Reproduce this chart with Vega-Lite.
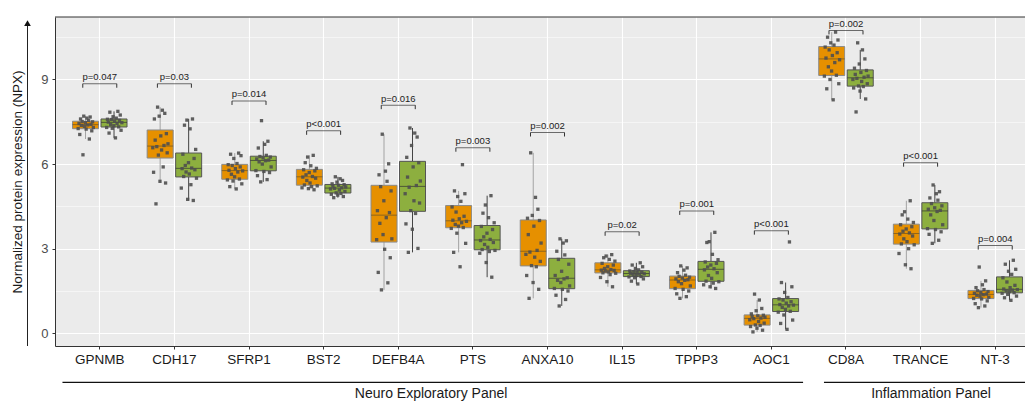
{
"$schema": "https://vega.github.io/schema/vega-lite/v6.json",
"width": 970, "height": 329,
"autosize": {"type": "none"},
"padding": {"left": 55, "top": 17, "right": 0, "bottom": 57},
"background": "white",
"config": {
  "font": "Liberation Sans",
  "view": {"fill": "#EBEBEB", "stroke": null},
  "axis": {"labelFont": "Liberation Sans", "titleFont": "Liberation Sans"}
},
"resolve": {"scale": {"xOffset": "independent"}},
"datasets": {
"npx": [
{"protein":"GPNMB","group":"A","sample":7,"npx":6.33},{"protein":"GPNMB","group":"A","sample":15,"npx":6.89},{"protein":"GPNMB","group":"A","sample":3,"npx":7.05},{"protein":"GPNMB","group":"A","sample":18,"npx":7.18},{"protein":"GPNMB","group":"A","sample":11,"npx":7.24},{"protein":"GPNMB","group":"A","sample":1,"npx":7.26},{"protein":"GPNMB","group":"A","sample":20,"npx":7.30},{"protein":"GPNMB","group":"A","sample":9,"npx":7.34},{"protein":"GPNMB","group":"A","sample":5,"npx":7.37},{"protein":"GPNMB","group":"A","sample":13,"npx":7.39},{"protein":"GPNMB","group":"A","sample":17,"npx":7.41},{"protein":"GPNMB","group":"A","sample":2,"npx":7.44},{"protein":"GPNMB","group":"A","sample":10,"npx":7.47},{"protein":"GPNMB","group":"A","sample":19,"npx":7.50},{"protein":"GPNMB","group":"A","sample":6,"npx":7.51},{"protein":"GPNMB","group":"A","sample":14,"npx":7.55},{"protein":"GPNMB","group":"A","sample":4,"npx":7.60},{"protein":"GPNMB","group":"A","sample":12,"npx":7.63},{"protein":"GPNMB","group":"A","sample":16,"npx":7.67},{"protein":"GPNMB","group":"A","sample":8,"npx":7.70},
{"protein":"GPNMB","group":"B","sample":12,"npx":6.93},{"protein":"GPNMB","group":"B","sample":4,"npx":7.10},{"protein":"GPNMB","group":"B","sample":19,"npx":7.20},{"protein":"GPNMB","group":"B","sample":8,"npx":7.27},{"protein":"GPNMB","group":"B","sample":1,"npx":7.30},{"protein":"GPNMB","group":"B","sample":16,"npx":7.32},{"protein":"GPNMB","group":"B","sample":10,"npx":7.36},{"protein":"GPNMB","group":"B","sample":6,"npx":7.40},{"protein":"GPNMB","group":"B","sample":14,"npx":7.44},{"protein":"GPNMB","group":"B","sample":20,"npx":7.47},{"protein":"GPNMB","group":"B","sample":3,"npx":7.49},{"protein":"GPNMB","group":"B","sample":11,"npx":7.52},{"protein":"GPNMB","group":"B","sample":17,"npx":7.55},{"protein":"GPNMB","group":"B","sample":7,"npx":7.58},{"protein":"GPNMB","group":"B","sample":2,"npx":7.59},{"protein":"GPNMB","group":"B","sample":13,"npx":7.63},{"protein":"GPNMB","group":"B","sample":9,"npx":7.68},{"protein":"GPNMB","group":"B","sample":18,"npx":7.74},{"protein":"GPNMB","group":"B","sample":5,"npx":7.84},{"protein":"GPNMB","group":"B","sample":15,"npx":7.87},
{"protein":"CDH17","group":"A","sample":5,"npx":4.59},{"protein":"CDH17","group":"A","sample":17,"npx":5.33},{"protein":"CDH17","group":"A","sample":10,"npx":5.39},{"protein":"CDH17","group":"A","sample":2,"npx":5.71},{"protein":"CDH17","group":"A","sample":14,"npx":5.90},{"protein":"CDH17","group":"A","sample":8,"npx":6.32},{"protein":"CDH17","group":"A","sample":19,"npx":6.40},{"protein":"CDH17","group":"A","sample":12,"npx":6.50},{"protein":"CDH17","group":"A","sample":1,"npx":6.58},{"protein":"CDH17","group":"A","sample":6,"npx":6.62},{"protein":"CDH17","group":"A","sample":15,"npx":6.66},{"protein":"CDH17","group":"A","sample":20,"npx":6.72},{"protein":"CDH17","group":"A","sample":4,"npx":6.85},{"protein":"CDH17","group":"A","sample":11,"npx":7.00},{"protein":"CDH17","group":"A","sample":18,"npx":7.08},{"protein":"CDH17","group":"A","sample":3,"npx":7.60},{"protein":"CDH17","group":"A","sample":9,"npx":7.70},{"protein":"CDH17","group":"A","sample":16,"npx":7.80},{"protein":"CDH17","group":"A","sample":13,"npx":7.91},{"protein":"CDH17","group":"A","sample":7,"npx":8.02},
{"protein":"CDH17","group":"B","sample":16,"npx":4.71},{"protein":"CDH17","group":"B","sample":9,"npx":4.75},{"protein":"CDH17","group":"B","sample":1,"npx":5.15},{"protein":"CDH17","group":"B","sample":13,"npx":5.27},{"protein":"CDH17","group":"B","sample":20,"npx":5.50},{"protein":"CDH17","group":"B","sample":4,"npx":5.56},{"protein":"CDH17","group":"B","sample":11,"npx":5.65},{"protein":"CDH17","group":"B","sample":7,"npx":5.72},{"protein":"CDH17","group":"B","sample":18,"npx":5.80},{"protein":"CDH17","group":"B","sample":2,"npx":5.84},{"protein":"CDH17","group":"B","sample":14,"npx":5.86},{"protein":"CDH17","group":"B","sample":6,"npx":5.95},{"protein":"CDH17","group":"B","sample":10,"npx":6.05},{"protein":"CDH17","group":"B","sample":17,"npx":6.20},{"protein":"CDH17","group":"B","sample":3,"npx":6.35},{"protein":"CDH17","group":"B","sample":19,"npx":6.52},{"protein":"CDH17","group":"B","sample":12,"npx":7.25},{"protein":"CDH17","group":"B","sample":5,"npx":7.38},{"protein":"CDH17","group":"B","sample":8,"npx":7.56},{"protein":"CDH17","group":"B","sample":15,"npx":7.60},
{"protein":"SFRP1","group":"A","sample":12,"npx":5.12},{"protein":"SFRP1","group":"A","sample":4,"npx":5.20},{"protein":"SFRP1","group":"A","sample":19,"npx":5.30},{"protein":"SFRP1","group":"A","sample":8,"npx":5.40},{"protein":"SFRP1","group":"A","sample":1,"npx":5.44},{"protein":"SFRP1","group":"A","sample":16,"npx":5.47},{"protein":"SFRP1","group":"A","sample":10,"npx":5.55},{"protein":"SFRP1","group":"A","sample":6,"npx":5.64},{"protein":"SFRP1","group":"A","sample":14,"npx":5.72},{"protein":"SFRP1","group":"A","sample":20,"npx":5.76},{"protein":"SFRP1","group":"A","sample":3,"npx":5.78},{"protein":"SFRP1","group":"A","sample":11,"npx":5.84},{"protein":"SFRP1","group":"A","sample":17,"npx":5.90},{"protein":"SFRP1","group":"A","sample":7,"npx":5.95},{"protein":"SFRP1","group":"A","sample":2,"npx":5.98},{"protein":"SFRP1","group":"A","sample":13,"npx":6.02},{"protein":"SFRP1","group":"A","sample":9,"npx":6.20},{"protein":"SFRP1","group":"A","sample":18,"npx":6.30},{"protein":"SFRP1","group":"A","sample":5,"npx":6.35},{"protein":"SFRP1","group":"A","sample":15,"npx":6.39},
{"protein":"SFRP1","group":"B","sample":7,"npx":5.37},{"protein":"SFRP1","group":"B","sample":15,"npx":5.45},{"protein":"SFRP1","group":"B","sample":3,"npx":5.59},{"protein":"SFRP1","group":"B","sample":18,"npx":5.70},{"protein":"SFRP1","group":"B","sample":11,"npx":5.74},{"protein":"SFRP1","group":"B","sample":1,"npx":5.77},{"protein":"SFRP1","group":"B","sample":20,"npx":5.90},{"protein":"SFRP1","group":"B","sample":9,"npx":6.00},{"protein":"SFRP1","group":"B","sample":5,"npx":6.08},{"protein":"SFRP1","group":"B","sample":13,"npx":6.12},{"protein":"SFRP1","group":"B","sample":17,"npx":6.14},{"protein":"SFRP1","group":"B","sample":2,"npx":6.18},{"protein":"SFRP1","group":"B","sample":10,"npx":6.22},{"protein":"SFRP1","group":"B","sample":19,"npx":6.25},{"protein":"SFRP1","group":"B","sample":6,"npx":6.27},{"protein":"SFRP1","group":"B","sample":14,"npx":6.31},{"protein":"SFRP1","group":"B","sample":4,"npx":6.57},{"protein":"SFRP1","group":"B","sample":12,"npx":6.70},{"protein":"SFRP1","group":"B","sample":16,"npx":6.81},{"protein":"SFRP1","group":"B","sample":8,"npx":7.54},
{"protein":"BST2","group":"A","sample":16,"npx":5.09},{"protein":"BST2","group":"A","sample":9,"npx":5.13},{"protein":"BST2","group":"A","sample":1,"npx":5.16},{"protein":"BST2","group":"A","sample":13,"npx":5.20},{"protein":"BST2","group":"A","sample":20,"npx":5.23},{"protein":"BST2","group":"A","sample":4,"npx":5.26},{"protein":"BST2","group":"A","sample":11,"npx":5.33},{"protein":"BST2","group":"A","sample":7,"npx":5.42},{"protein":"BST2","group":"A","sample":18,"npx":5.50},{"protein":"BST2","group":"A","sample":2,"npx":5.54},{"protein":"BST2","group":"A","sample":14,"npx":5.56},{"protein":"BST2","group":"A","sample":6,"npx":5.62},{"protein":"BST2","group":"A","sample":10,"npx":5.70},{"protein":"BST2","group":"A","sample":17,"npx":5.76},{"protein":"BST2","group":"A","sample":3,"npx":5.80},{"protein":"BST2","group":"A","sample":19,"npx":5.85},{"protein":"BST2","group":"A","sample":12,"npx":5.94},{"protein":"BST2","group":"A","sample":5,"npx":6.05},{"protein":"BST2","group":"A","sample":8,"npx":6.25},{"protein":"BST2","group":"A","sample":15,"npx":6.31},
{"protein":"BST2","group":"B","sample":5,"npx":4.81},{"protein":"BST2","group":"B","sample":17,"npx":4.85},{"protein":"BST2","group":"B","sample":10,"npx":4.90},{"protein":"BST2","group":"B","sample":2,"npx":4.93},{"protein":"BST2","group":"B","sample":14,"npx":4.96},{"protein":"BST2","group":"B","sample":8,"npx":4.98},{"protein":"BST2","group":"B","sample":19,"npx":5.03},{"protein":"BST2","group":"B","sample":12,"npx":5.08},{"protein":"BST2","group":"B","sample":1,"npx":5.12},{"protein":"BST2","group":"B","sample":6,"npx":5.14},{"protein":"BST2","group":"B","sample":15,"npx":5.16},{"protein":"BST2","group":"B","sample":20,"npx":5.19},{"protein":"BST2","group":"B","sample":4,"npx":5.22},{"protein":"BST2","group":"B","sample":11,"npx":5.25},{"protein":"BST2","group":"B","sample":18,"npx":5.27},{"protein":"BST2","group":"B","sample":3,"npx":5.30},{"protein":"BST2","group":"B","sample":9,"npx":5.36},{"protein":"BST2","group":"B","sample":16,"npx":5.42},{"protein":"BST2","group":"B","sample":13,"npx":5.48},{"protein":"BST2","group":"B","sample":7,"npx":5.55},
{"protein":"DEFB4A","group":"A","sample":7,"npx":1.54},{"protein":"DEFB4A","group":"A","sample":15,"npx":1.79},{"protein":"DEFB4A","group":"A","sample":3,"npx":2.16},{"protein":"DEFB4A","group":"A","sample":18,"npx":2.68},{"protein":"DEFB4A","group":"A","sample":11,"npx":2.98},{"protein":"DEFB4A","group":"A","sample":1,"npx":3.32},{"protein":"DEFB4A","group":"A","sample":20,"npx":3.35},{"protein":"DEFB4A","group":"A","sample":9,"npx":3.50},{"protein":"DEFB4A","group":"A","sample":5,"npx":3.90},{"protein":"DEFB4A","group":"A","sample":13,"npx":4.10},{"protein":"DEFB4A","group":"A","sample":17,"npx":4.28},{"protein":"DEFB4A","group":"A","sample":2,"npx":4.35},{"protein":"DEFB4A","group":"A","sample":10,"npx":4.70},{"protein":"DEFB4A","group":"A","sample":19,"npx":5.05},{"protein":"DEFB4A","group":"A","sample":6,"npx":5.20},{"protein":"DEFB4A","group":"A","sample":14,"npx":5.39},{"protein":"DEFB4A","group":"A","sample":4,"npx":5.62},{"protein":"DEFB4A","group":"A","sample":12,"npx":5.75},{"protein":"DEFB4A","group":"A","sample":16,"npx":6.01},{"protein":"DEFB4A","group":"A","sample":8,"npx":7.06},
{"protein":"DEFB4A","group":"B","sample":5,"npx":2.87},{"protein":"DEFB4A","group":"B","sample":17,"npx":3.01},{"protein":"DEFB4A","group":"B","sample":10,"npx":3.69},{"protein":"DEFB4A","group":"B","sample":2,"npx":3.88},{"protein":"DEFB4A","group":"B","sample":14,"npx":4.25},{"protein":"DEFB4A","group":"B","sample":8,"npx":4.35},{"protein":"DEFB4A","group":"B","sample":19,"npx":4.62},{"protein":"DEFB4A","group":"B","sample":12,"npx":4.70},{"protein":"DEFB4A","group":"B","sample":1,"npx":4.95},{"protein":"DEFB4A","group":"B","sample":6,"npx":5.18},{"protein":"DEFB4A","group":"B","sample":15,"npx":5.24},{"protein":"DEFB4A","group":"B","sample":20,"npx":5.40},{"protein":"DEFB4A","group":"B","sample":4,"npx":5.54},{"protein":"DEFB4A","group":"B","sample":11,"npx":5.90},{"protein":"DEFB4A","group":"B","sample":18,"npx":6.05},{"protein":"DEFB4A","group":"B","sample":3,"npx":6.24},{"protein":"DEFB4A","group":"B","sample":9,"npx":6.66},{"protein":"DEFB4A","group":"B","sample":16,"npx":6.96},{"protein":"DEFB4A","group":"B","sample":13,"npx":7.10},{"protein":"DEFB4A","group":"B","sample":7,"npx":7.28},
{"protein":"PTS","group":"A","sample":12,"npx":2.36},{"protein":"PTS","group":"A","sample":4,"npx":2.87},{"protein":"PTS","group":"A","sample":19,"npx":3.19},{"protein":"PTS","group":"A","sample":8,"npx":3.55},{"protein":"PTS","group":"A","sample":1,"npx":3.72},{"protein":"PTS","group":"A","sample":16,"npx":3.75},{"protein":"PTS","group":"A","sample":10,"npx":3.80},{"protein":"PTS","group":"A","sample":6,"npx":3.86},{"protein":"PTS","group":"A","sample":14,"npx":3.92},{"protein":"PTS","group":"A","sample":20,"npx":3.97},{"protein":"PTS","group":"A","sample":3,"npx":4.01},{"protein":"PTS","group":"A","sample":11,"npx":4.06},{"protein":"PTS","group":"A","sample":17,"npx":4.15},{"protein":"PTS","group":"A","sample":7,"npx":4.30},{"protein":"PTS","group":"A","sample":2,"npx":4.48},{"protein":"PTS","group":"A","sample":13,"npx":4.68},{"protein":"PTS","group":"A","sample":9,"npx":4.85},{"protein":"PTS","group":"A","sample":18,"npx":4.95},{"protein":"PTS","group":"A","sample":5,"npx":5.05},{"protein":"PTS","group":"A","sample":15,"npx":5.98},
{"protein":"PTS","group":"B","sample":16,"npx":1.99},{"protein":"PTS","group":"B","sample":9,"npx":2.51},{"protein":"PTS","group":"B","sample":1,"npx":2.84},{"protein":"PTS","group":"B","sample":13,"npx":2.90},{"protein":"PTS","group":"B","sample":20,"npx":2.94},{"protein":"PTS","group":"B","sample":4,"npx":2.97},{"protein":"PTS","group":"B","sample":11,"npx":3.05},{"protein":"PTS","group":"B","sample":7,"npx":3.15},{"protein":"PTS","group":"B","sample":18,"npx":3.22},{"protein":"PTS","group":"B","sample":2,"npx":3.29},{"protein":"PTS","group":"B","sample":14,"npx":3.33},{"protein":"PTS","group":"B","sample":6,"npx":3.42},{"protein":"PTS","group":"B","sample":10,"npx":3.55},{"protein":"PTS","group":"B","sample":17,"npx":3.68},{"protein":"PTS","group":"B","sample":3,"npx":3.79},{"protein":"PTS","group":"B","sample":19,"npx":3.92},{"protein":"PTS","group":"B","sample":12,"npx":4.10},{"protein":"PTS","group":"B","sample":5,"npx":4.26},{"protein":"PTS","group":"B","sample":8,"npx":4.55},{"protein":"PTS","group":"B","sample":15,"npx":4.88},
{"protein":"ANXA10","group":"A","sample":5,"npx":1.24},{"protein":"ANXA10","group":"A","sample":17,"npx":1.56},{"protein":"ANXA10","group":"A","sample":10,"npx":1.80},{"protein":"ANXA10","group":"A","sample":2,"npx":2.05},{"protein":"ANXA10","group":"A","sample":14,"npx":2.36},{"protein":"ANXA10","group":"A","sample":8,"npx":2.40},{"protein":"ANXA10","group":"A","sample":19,"npx":2.55},{"protein":"ANXA10","group":"A","sample":12,"npx":2.70},{"protein":"ANXA10","group":"A","sample":1,"npx":2.80},{"protein":"ANXA10","group":"A","sample":6,"npx":2.88},{"protein":"ANXA10","group":"A","sample":15,"npx":2.94},{"protein":"ANXA10","group":"A","sample":20,"npx":3.20},{"protein":"ANXA10","group":"A","sample":4,"npx":3.50},{"protein":"ANXA10","group":"A","sample":11,"npx":3.80},{"protein":"ANXA10","group":"A","sample":18,"npx":4.00},{"protein":"ANXA10","group":"A","sample":3,"npx":4.08},{"protein":"ANXA10","group":"A","sample":9,"npx":4.18},{"protein":"ANXA10","group":"A","sample":16,"npx":4.40},{"protein":"ANXA10","group":"A","sample":13,"npx":4.82},{"protein":"ANXA10","group":"A","sample":7,"npx":6.40},
{"protein":"ANXA10","group":"B","sample":7,"npx":0.97},{"protein":"ANXA10","group":"B","sample":15,"npx":1.20},{"protein":"ANXA10","group":"B","sample":3,"npx":1.35},{"protein":"ANXA10","group":"B","sample":18,"npx":1.50},{"protein":"ANXA10","group":"B","sample":11,"npx":1.56},{"protein":"ANXA10","group":"B","sample":1,"npx":1.59},{"protein":"ANXA10","group":"B","sample":20,"npx":1.68},{"protein":"ANXA10","group":"B","sample":9,"npx":1.80},{"protein":"ANXA10","group":"B","sample":5,"npx":1.88},{"protein":"ANXA10","group":"B","sample":13,"npx":1.93},{"protein":"ANXA10","group":"B","sample":17,"npx":1.97},{"protein":"ANXA10","group":"B","sample":2,"npx":2.05},{"protein":"ANXA10","group":"B","sample":10,"npx":2.20},{"protein":"ANXA10","group":"B","sample":19,"npx":2.45},{"protein":"ANXA10","group":"B","sample":6,"npx":2.62},{"protein":"ANXA10","group":"B","sample":14,"npx":2.78},{"protein":"ANXA10","group":"B","sample":4,"npx":2.91},{"protein":"ANXA10","group":"B","sample":12,"npx":3.20},{"protein":"ANXA10","group":"B","sample":16,"npx":3.28},{"protein":"ANXA10","group":"B","sample":8,"npx":3.35},
{"protein":"IL15","group":"A","sample":16,"npx":1.65},{"protein":"IL15","group":"A","sample":9,"npx":1.83},{"protein":"IL15","group":"A","sample":1,"npx":1.98},{"protein":"IL15","group":"A","sample":13,"npx":2.08},{"protein":"IL15","group":"A","sample":20,"npx":2.13},{"protein":"IL15","group":"A","sample":4,"npx":2.145},{"protein":"IL15","group":"A","sample":11,"npx":2.18},{"protein":"IL15","group":"A","sample":7,"npx":2.21},{"protein":"IL15","group":"A","sample":18,"npx":2.23},{"protein":"IL15","group":"A","sample":2,"npx":2.24},{"protein":"IL15","group":"A","sample":14,"npx":2.26},{"protein":"IL15","group":"A","sample":6,"npx":2.30},{"protein":"IL15","group":"A","sample":10,"npx":2.36},{"protein":"IL15","group":"A","sample":17,"npx":2.42},{"protein":"IL15","group":"A","sample":3,"npx":2.48},{"protein":"IL15","group":"A","sample":19,"npx":2.56},{"protein":"IL15","group":"A","sample":12,"npx":2.62},{"protein":"IL15","group":"A","sample":5,"npx":2.68},{"protein":"IL15","group":"A","sample":8,"npx":2.74},{"protein":"IL15","group":"A","sample":15,"npx":2.79},
{"protein":"IL15","group":"B","sample":12,"npx":1.75},{"protein":"IL15","group":"B","sample":4,"npx":1.85},{"protein":"IL15","group":"B","sample":19,"npx":1.93},{"protein":"IL15","group":"B","sample":8,"npx":1.97},{"protein":"IL15","group":"B","sample":1,"npx":2.00},{"protein":"IL15","group":"B","sample":16,"npx":2.015},{"protein":"IL15","group":"B","sample":10,"npx":2.05},{"protein":"IL15","group":"B","sample":6,"npx":2.08},{"protein":"IL15","group":"B","sample":14,"npx":2.10},{"protein":"IL15","group":"B","sample":20,"npx":2.11},{"protein":"IL15","group":"B","sample":3,"npx":2.13},{"protein":"IL15","group":"B","sample":11,"npx":2.15},{"protein":"IL15","group":"B","sample":17,"npx":2.17},{"protein":"IL15","group":"B","sample":7,"npx":2.19},{"protein":"IL15","group":"B","sample":2,"npx":2.21},{"protein":"IL15","group":"B","sample":13,"npx":2.25},{"protein":"IL15","group":"B","sample":9,"npx":2.30},{"protein":"IL15","group":"B","sample":18,"npx":2.36},{"protein":"IL15","group":"B","sample":5,"npx":2.42},{"protein":"IL15","group":"B","sample":15,"npx":2.50},
{"protein":"TPPP3","group":"A","sample":7,"npx":1.24},{"protein":"TPPP3","group":"A","sample":15,"npx":1.30},{"protein":"TPPP3","group":"A","sample":3,"npx":1.40},{"protein":"TPPP3","group":"A","sample":18,"npx":1.50},{"protein":"TPPP3","group":"A","sample":11,"npx":1.56},{"protein":"TPPP3","group":"A","sample":1,"npx":1.59},{"protein":"TPPP3","group":"A","sample":20,"npx":1.68},{"protein":"TPPP3","group":"A","sample":9,"npx":1.76},{"protein":"TPPP3","group":"A","sample":5,"npx":1.83},{"protein":"TPPP3","group":"A","sample":13,"npx":1.88},{"protein":"TPPP3","group":"A","sample":17,"npx":1.90},{"protein":"TPPP3","group":"A","sample":2,"npx":1.93},{"protein":"TPPP3","group":"A","sample":10,"npx":1.96},{"protein":"TPPP3","group":"A","sample":19,"npx":1.99},{"protein":"TPPP3","group":"A","sample":6,"npx":2.02},{"protein":"TPPP3","group":"A","sample":14,"npx":2.06},{"protein":"TPPP3","group":"A","sample":4,"npx":2.15},{"protein":"TPPP3","group":"A","sample":12,"npx":2.24},{"protein":"TPPP3","group":"A","sample":16,"npx":2.32},{"protein":"TPPP3","group":"A","sample":8,"npx":2.39},
{"protein":"TPPP3","group":"B","sample":16,"npx":1.59},{"protein":"TPPP3","group":"B","sample":9,"npx":1.65},{"protein":"TPPP3","group":"B","sample":1,"npx":1.72},{"protein":"TPPP3","group":"B","sample":13,"npx":1.78},{"protein":"TPPP3","group":"B","sample":20,"npx":1.83},{"protein":"TPPP3","group":"B","sample":4,"npx":1.85},{"protein":"TPPP3","group":"B","sample":11,"npx":1.95},{"protein":"TPPP3","group":"B","sample":7,"npx":2.05},{"protein":"TPPP3","group":"B","sample":18,"npx":2.15},{"protein":"TPPP3","group":"B","sample":2,"npx":2.25},{"protein":"TPPP3","group":"B","sample":14,"npx":2.29},{"protein":"TPPP3","group":"B","sample":6,"npx":2.35},{"protein":"TPPP3","group":"B","sample":10,"npx":2.42},{"protein":"TPPP3","group":"B","sample":17,"npx":2.48},{"protein":"TPPP3","group":"B","sample":3,"npx":2.53},{"protein":"TPPP3","group":"B","sample":19,"npx":2.61},{"protein":"TPPP3","group":"B","sample":12,"npx":2.80},{"protein":"TPPP3","group":"B","sample":5,"npx":3.22},{"protein":"TPPP3","group":"B","sample":8,"npx":3.25},{"protein":"TPPP3","group":"B","sample":15,"npx":3.58},
{"protein":"AOC1","group":"A","sample":5,"npx":0.05},{"protein":"AOC1","group":"A","sample":17,"npx":0.11},{"protein":"AOC1","group":"A","sample":10,"npx":0.18},{"protein":"AOC1","group":"A","sample":2,"npx":0.24},{"protein":"AOC1","group":"A","sample":14,"npx":0.28},{"protein":"AOC1","group":"A","sample":8,"npx":0.295},{"protein":"AOC1","group":"A","sample":19,"npx":0.36},{"protein":"AOC1","group":"A","sample":12,"npx":0.42},{"protein":"AOC1","group":"A","sample":1,"npx":0.48},{"protein":"AOC1","group":"A","sample":6,"npx":0.52},{"protein":"AOC1","group":"A","sample":15,"npx":0.54},{"protein":"AOC1","group":"A","sample":20,"npx":0.57},{"protein":"AOC1","group":"A","sample":4,"npx":0.60},{"protein":"AOC1","group":"A","sample":11,"npx":0.62},{"protein":"AOC1","group":"A","sample":18,"npx":0.64},{"protein":"AOC1","group":"A","sample":3,"npx":0.69},{"protein":"AOC1","group":"A","sample":9,"npx":0.80},{"protein":"AOC1","group":"A","sample":16,"npx":0.88},{"protein":"AOC1","group":"A","sample":13,"npx":1.18},{"protein":"AOC1","group":"A","sample":7,"npx":1.39},
{"protein":"AOC1","group":"B","sample":12,"npx":0.14},{"protein":"AOC1","group":"B","sample":4,"npx":0.35},{"protein":"AOC1","group":"B","sample":19,"npx":0.47},{"protein":"AOC1","group":"B","sample":8,"npx":0.65},{"protein":"AOC1","group":"B","sample":1,"npx":0.75},{"protein":"AOC1","group":"B","sample":16,"npx":0.78},{"protein":"AOC1","group":"B","sample":10,"npx":0.85},{"protein":"AOC1","group":"B","sample":6,"npx":0.92},{"protein":"AOC1","group":"B","sample":14,"npx":0.97},{"protein":"AOC1","group":"B","sample":20,"npx":1.00},{"protein":"AOC1","group":"B","sample":3,"npx":1.02},{"protein":"AOC1","group":"B","sample":11,"npx":1.07},{"protein":"AOC1","group":"B","sample":17,"npx":1.12},{"protein":"AOC1","group":"B","sample":7,"npx":1.18},{"protein":"AOC1","group":"B","sample":2,"npx":1.22},{"protein":"AOC1","group":"B","sample":13,"npx":1.27},{"protein":"AOC1","group":"B","sample":9,"npx":1.45},{"protein":"AOC1","group":"B","sample":18,"npx":1.65},{"protein":"AOC1","group":"B","sample":5,"npx":1.80},{"protein":"AOC1","group":"B","sample":15,"npx":3.24},
{"protein":"CD8A","group":"A","sample":12,"npx":8.28},{"protein":"CD8A","group":"A","sample":4,"npx":8.67},{"protein":"CD8A","group":"A","sample":19,"npx":8.85},{"protein":"CD8A","group":"A","sample":8,"npx":9.00},{"protein":"CD8A","group":"A","sample":1,"npx":9.12},{"protein":"CD8A","group":"A","sample":16,"npx":9.15},{"protein":"CD8A","group":"A","sample":10,"npx":9.30},{"protein":"CD8A","group":"A","sample":6,"npx":9.45},{"protein":"CD8A","group":"A","sample":14,"npx":9.60},{"protein":"CD8A","group":"A","sample":20,"npx":9.70},{"protein":"CD8A","group":"A","sample":3,"npx":9.76},{"protein":"CD8A","group":"A","sample":11,"npx":9.85},{"protein":"CD8A","group":"A","sample":17,"npx":9.95},{"protein":"CD8A","group":"A","sample":7,"npx":10.05},{"protein":"CD8A","group":"A","sample":2,"npx":10.15},{"protein":"CD8A","group":"A","sample":13,"npx":10.22},{"protein":"CD8A","group":"A","sample":9,"npx":10.30},{"protein":"CD8A","group":"A","sample":18,"npx":10.40},{"protein":"CD8A","group":"A","sample":5,"npx":10.50},{"protein":"CD8A","group":"A","sample":15,"npx":10.68},
{"protein":"CD8A","group":"B","sample":5,"npx":7.85},{"protein":"CD8A","group":"B","sample":17,"npx":8.31},{"protein":"CD8A","group":"B","sample":10,"npx":8.59},{"protein":"CD8A","group":"B","sample":2,"npx":8.70},{"protein":"CD8A","group":"B","sample":14,"npx":8.75},{"protein":"CD8A","group":"B","sample":8,"npx":8.77},{"protein":"CD8A","group":"B","sample":19,"npx":8.85},{"protein":"CD8A","group":"B","sample":12,"npx":8.93},{"protein":"CD8A","group":"B","sample":1,"npx":9.00},{"protein":"CD8A","group":"B","sample":6,"npx":9.04},{"protein":"CD8A","group":"B","sample":15,"npx":9.08},{"protein":"CD8A","group":"B","sample":20,"npx":9.12},{"protein":"CD8A","group":"B","sample":4,"npx":9.18},{"protein":"CD8A","group":"B","sample":11,"npx":9.25},{"protein":"CD8A","group":"B","sample":18,"npx":9.32},{"protein":"CD8A","group":"B","sample":3,"npx":9.40},{"protein":"CD8A","group":"B","sample":9,"npx":9.55},{"protein":"CD8A","group":"B","sample":16,"npx":9.73},{"protein":"CD8A","group":"B","sample":13,"npx":10.05},{"protein":"CD8A","group":"B","sample":7,"npx":10.30},
{"protein":"TRANCE","group":"A","sample":16,"npx":2.29},{"protein":"TRANCE","group":"A","sample":9,"npx":2.43},{"protein":"TRANCE","group":"A","sample":1,"npx":2.83},{"protein":"TRANCE","group":"A","sample":13,"npx":3.00},{"protein":"TRANCE","group":"A","sample":20,"npx":3.14},{"protein":"TRANCE","group":"A","sample":4,"npx":3.17},{"protein":"TRANCE","group":"A","sample":11,"npx":3.25},{"protein":"TRANCE","group":"A","sample":7,"npx":3.35},{"protein":"TRANCE","group":"A","sample":18,"npx":3.45},{"protein":"TRANCE","group":"A","sample":2,"npx":3.52},{"protein":"TRANCE","group":"A","sample":14,"npx":3.56},{"protein":"TRANCE","group":"A","sample":6,"npx":3.62},{"protein":"TRANCE","group":"A","sample":10,"npx":3.70},{"protein":"TRANCE","group":"A","sample":17,"npx":3.78},{"protein":"TRANCE","group":"A","sample":3,"npx":3.85},{"protein":"TRANCE","group":"A","sample":19,"npx":3.93},{"protein":"TRANCE","group":"A","sample":12,"npx":4.05},{"protein":"TRANCE","group":"A","sample":5,"npx":4.20},{"protein":"TRANCE","group":"A","sample":8,"npx":4.31},{"protein":"TRANCE","group":"A","sample":15,"npx":4.70},
{"protein":"TRANCE","group":"B","sample":7,"npx":3.19},{"protein":"TRANCE","group":"B","sample":15,"npx":3.30},{"protein":"TRANCE","group":"B","sample":3,"npx":3.51},{"protein":"TRANCE","group":"B","sample":18,"npx":3.60},{"protein":"TRANCE","group":"B","sample":11,"npx":3.68},{"protein":"TRANCE","group":"B","sample":1,"npx":3.71},{"protein":"TRANCE","group":"B","sample":20,"npx":3.85},{"protein":"TRANCE","group":"B","sample":9,"npx":4.00},{"protein":"TRANCE","group":"B","sample":5,"npx":4.20},{"protein":"TRANCE","group":"B","sample":13,"npx":4.32},{"protein":"TRANCE","group":"B","sample":17,"npx":4.36},{"protein":"TRANCE","group":"B","sample":2,"npx":4.40},{"protein":"TRANCE","group":"B","sample":10,"npx":4.45},{"protein":"TRANCE","group":"B","sample":19,"npx":4.52},{"protein":"TRANCE","group":"B","sample":6,"npx":4.60},{"protein":"TRANCE","group":"B","sample":14,"npx":4.72},{"protein":"TRANCE","group":"B","sample":4,"npx":4.80},{"protein":"TRANCE","group":"B","sample":12,"npx":4.95},{"protein":"TRANCE","group":"B","sample":16,"npx":5.02},{"protein":"TRANCE","group":"B","sample":8,"npx":5.26},
{"protein":"NT-3","group":"A","sample":7,"npx":0.91},{"protein":"NT-3","group":"A","sample":15,"npx":0.97},{"protein":"NT-3","group":"A","sample":3,"npx":1.05},{"protein":"NT-3","group":"A","sample":18,"npx":1.15},{"protein":"NT-3","group":"A","sample":11,"npx":1.22},{"protein":"NT-3","group":"A","sample":1,"npx":1.235},{"protein":"NT-3","group":"A","sample":20,"npx":1.28},{"protein":"NT-3","group":"A","sample":9,"npx":1.32},{"protein":"NT-3","group":"A","sample":5,"npx":1.35},{"protein":"NT-3","group":"A","sample":13,"npx":1.37},{"protein":"NT-3","group":"A","sample":17,"npx":1.39},{"protein":"NT-3","group":"A","sample":2,"npx":1.42},{"protein":"NT-3","group":"A","sample":10,"npx":1.45},{"protein":"NT-3","group":"A","sample":19,"npx":1.48},{"protein":"NT-3","group":"A","sample":6,"npx":1.51},{"protein":"NT-3","group":"A","sample":14,"npx":1.55},{"protein":"NT-3","group":"A","sample":4,"npx":1.62},{"protein":"NT-3","group":"A","sample":12,"npx":1.72},{"protein":"NT-3","group":"A","sample":16,"npx":1.86},{"protein":"NT-3","group":"A","sample":8,"npx":2.35},
{"protein":"NT-3","group":"B","sample":12,"npx":1.17},{"protein":"NT-3","group":"B","sample":4,"npx":1.26},{"protein":"NT-3","group":"B","sample":19,"npx":1.32},{"protein":"NT-3","group":"B","sample":8,"npx":1.38},{"protein":"NT-3","group":"B","sample":1,"npx":1.42},{"protein":"NT-3","group":"B","sample":16,"npx":1.44},{"protein":"NT-3","group":"B","sample":10,"npx":1.48},{"protein":"NT-3","group":"B","sample":6,"npx":1.51},{"protein":"NT-3","group":"B","sample":14,"npx":1.53},{"protein":"NT-3","group":"B","sample":20,"npx":1.55},{"protein":"NT-3","group":"B","sample":3,"npx":1.57},{"protein":"NT-3","group":"B","sample":11,"npx":1.62},{"protein":"NT-3","group":"B","sample":17,"npx":1.70},{"protein":"NT-3","group":"B","sample":7,"npx":1.82},{"protein":"NT-3","group":"B","sample":2,"npx":1.97},{"protein":"NT-3","group":"B","sample":13,"npx":2.09},{"protein":"NT-3","group":"B","sample":9,"npx":2.20},{"protein":"NT-3","group":"B","sample":18,"npx":2.27},{"protein":"NT-3","group":"B","sample":5,"npx":2.45},{"protein":"NT-3","group":"B","sample":15,"npx":2.59}
],
"brackets": [
{"protein":"GPNMB","npx":8.85,"label":"p=0.047"},
{"protein":"CDH17","npx":8.85,"label":"p=0.03"},
{"protein":"SFRP1","npx":8.24,"label":"p=0.014"},
{"protein":"BST2","npx":7.18,"label":"p<0.001"},
{"protein":"DEFB4A","npx":8.09,"label":"p=0.016"},
{"protein":"PTS","npx":6.58,"label":"p=0.003"},
{"protein":"ANXA10","npx":7.12,"label":"p=0.002"},
{"protein":"IL15","npx":3.60,"label":"p=0.02"},
{"protein":"TPPP3","npx":4.34,"label":"p=0.001"},
{"protein":"AOC1","npx":3.64,"label":"p<0.001"},
{"protein":"CD8A","npx":10.74,"label":"p=0.002"},
{"protein":"TRANCE","npx":6.05,"label":"p<0.001"},
{"protein":"NT-3","npx":3.11,"label":"p=0.004"}
]
},
"layer": [
{
 "data": {"name": "npx"},
 "transform": [{"filter": "datum.group === 'A'"}],
 "mark": {"type": "boxplot", "extent": 1.5, "outliers": false, "size": 26, "color": "#E69000",
          "box": {"stroke": "#8a8a8a", "strokeWidth": 1}, "median": {"color": "#6b5225", "strokeWidth": 1.2}, "rule": {"color": "#a3a3a3"}},
 "encoding": {
  "x": {"field": "protein", "type": "nominal", "title": null,
        "scale": {"domain": ["GPNMB","CDH17","SFRP1","BST2","DEFB4A","PTS","ANXA10","IL15","TPPP3","AOC1","CD8A","TRANCE","NT-3"], "range": [0, 985], "paddingOuter": 0.1, "paddingInner": 0},
        "axis": {"title": null, "labelAngle": 0, "labelFontSize": 13.5, "labelColor": "#1a1a1a", "labelPadding": 3,
                 "tickColor": "#333333", "tickSize": 3, "domainColor": "#333333", "domainWidth": 1,
                 "grid": true, "gridColor": "white", "gridWidth": 1.1}},
  "xOffset": {"field": "group", "type": "nominal", "scale": {"type": "band", "domain": ["A","B"], "paddingInner": 0.088, "paddingOuter": 0.353}},
  "y": {"field": "npx", "type": "quantitative", "title": "Normalized protein expression (NPX)",
        "scale": {"domain": [-0.45, 11.216], "nice": false, "zero": false},
        "axis": {"title": "Normalized protein expression (NPX)", "titleFontSize": 13.5, "titleFontWeight": "normal", "titleColor": "#1a1a1a", "titlePadding": 16,
                 "values": [0, 1.5, 3, 4.5, 6, 7.5, 9, 10.5],
                 "labelExpr": "datum.value % 3 === 0 ? datum.label : ''",
                 "labelFontSize": 13, "labelColor": "#4d4d4d", "labelPadding": 4, "tickSize": 3,
                 "tickColor": {"condition": {"test": "datum.value % 3 === 0", "value": "#333333"}, "value": "transparent"},
                 "domainColor": "#333333", "domainWidth": 1,
                 "grid": true, "gridColor": "white",
                 "gridWidth": {"condition": {"test": "datum.value % 3 === 0", "value": 1.1}, "value": 0.5}}}
 }
},
{
 "data": {"name": "npx"},
 "transform": [{"filter": "datum.group === 'B'"}],
 "mark": {"type": "boxplot", "extent": 1.5, "outliers": false, "size": 26, "color": "#8DAF3F",
          "box": {"stroke": "#555555", "strokeWidth": 1}, "median": {"color": "#333333", "strokeWidth": 1.2}, "rule": {"color": "#444444"}},
 "encoding": {
  "x": {"field": "protein", "type": "nominal", "title": null},
  "xOffset": {"field": "group", "type": "nominal", "scale": {"type": "band", "domain": ["A","B"], "paddingInner": 0.088, "paddingOuter": 0.353}},
  "y": {"field": "npx", "type": "quantitative", "title": "Normalized protein expression (NPX)"}
 }
},
{
 "data": {"name": "npx"},
 "transform": [{"filter": "datum.group === 'A'"}],
 "mark": {"type": "point", "shape": "square", "filled": true, "size": 11, "color": "#4f4f4f", "opacity": 0.9},
 "encoding": {
  "x": {"field": "protein", "type": "nominal", "title": null},
  "xOffset": {"field": "sample", "type": "ordinal", "scale": {"type": "point", "range": [15.7, 30.9], "padding": 0}},
  "y": {"field": "npx", "type": "quantitative", "title": "Normalized protein expression (NPX)"}
 }
},
{
 "data": {"name": "npx"},
 "transform": [{"filter": "datum.group === 'B'"}],
 "mark": {"type": "point", "shape": "square", "filled": true, "size": 11, "color": "#4f4f4f", "opacity": 0.9},
 "encoding": {
  "x": {"field": "protein", "type": "nominal", "title": null},
  "xOffset": {"field": "sample", "type": "ordinal", "scale": {"type": "point", "range": [44.2, 59.4], "padding": 0}},
  "y": {"field": "npx", "type": "quantitative", "title": "Normalized protein expression (NPX)"}
 }
},
{
 "data": {"name": "brackets"},
 "mark": {"type": "tick", "orient": "horizontal", "size": 34, "thickness": 1, "color": "#333333"},
 "encoding": {"x": {"field": "protein", "type": "nominal", "title": null}, "y": {"field": "npx", "type": "quantitative", "title": "Normalized protein expression (NPX)"}}
},
{
 "data": {"name": "brackets"},
 "mark": {"type": "rule", "color": "#333333", "strokeWidth": 1, "xOffset": -17, "x2Offset": -17, "y2Offset": 4},
 "encoding": {"x": {"field": "protein", "type": "nominal", "title": null}, "y": {"field": "npx", "type": "quantitative", "title": "Normalized protein expression (NPX)"}, "y2": {"field": "npx"}}
},
{
 "data": {"name": "brackets"},
 "mark": {"type": "rule", "color": "#333333", "strokeWidth": 1, "xOffset": 17, "x2Offset": 17, "y2Offset": 4},
 "encoding": {"x": {"field": "protein", "type": "nominal", "title": null}, "y": {"field": "npx", "type": "quantitative", "title": "Normalized protein expression (NPX)"}, "y2": {"field": "npx"}}
},
{
 "data": {"name": "brackets"},
 "mark": {"type": "text", "baseline": "bottom", "dy": -1.5, "fontSize": 9.5, "color": "#222222"},
 "encoding": {"x": {"field": "protein", "type": "nominal", "title": null}, "y": {"field": "npx", "type": "quantitative", "title": "Normalized protein expression (NPX)"}, "text": {"field": "label"}}
},
{
 "data": {"values": [{}]},
 "mark": {"type": "rule", "color": "#333333", "strokeWidth": 1},
 "encoding": {"y": {"datum": 11.216, "type": "quantitative", "title": "Normalized protein expression (NPX)"}}
},
{
 "data": {"values": [{}]},
 "mark": {"type": "rule", "color": "#222222", "strokeWidth": 1, "xOffset": -34.96, "x2Offset": -34.96},
 "encoding": {"x": {"datum": "GPNMB", "type": "nominal", "bandPosition": 0, "title": null}, "y": {"datum": -0.45, "type": "quantitative", "title": "Normalized protein expression (NPX)"}, "y2": {"datum": 10.9}}
},
{
 "data": {"values": [{}]},
 "mark": {"type": "point", "shape": "triangle-up", "filled": true, "size": 45, "color": "#111111", "opacity": 1, "xOffset": -34.96},
 "encoding": {"x": {"datum": "GPNMB", "type": "nominal", "bandPosition": 0, "title": null}, "y": {"datum": 11.0, "type": "quantitative", "title": "Normalized protein expression (NPX)"}}
},
{
 "data": {"values": [{}]},
 "mark": {"type": "rule", "color": "#111111", "strokeWidth": 1.2},
 "encoding": {"x": {"datum": "GPNMB", "type": "nominal", "bandPosition": 0, "title": null}, "x2": {"datum": "AOC1", "bandPosition": 0.925}, "y": {"datum": -1.74, "type": "quantitative", "title": "Normalized protein expression (NPX)"}}
},
{
 "data": {"values": [{}]},
 "mark": {"type": "rule", "color": "#111111", "strokeWidth": 1.2},
 "encoding": {"x": {"datum": "CD8A", "type": "nominal", "bandPosition": 0.205, "title": null}, "x2": {"datum": "NT-3", "bandPosition": 1}, "y": {"datum": -1.74, "type": "quantitative", "title": "Normalized protein expression (NPX)"}}
},
{
 "data": {"values": [{}]},
 "mark": {"type": "text", "fontSize": 14, "color": "#1a1a1a", "baseline": "middle", "align": "center"},
 "encoding": {"x": {"datum": "DEFB4A", "type": "nominal", "bandPosition": 0.94, "title": null}, "y": {"datum": -2.15, "type": "quantitative", "title": "Normalized protein expression (NPX)"}, "text": {"value": "Neuro Exploratory Panel"}}
},
{
 "data": {"values": [{}]},
 "mark": {"type": "text", "fontSize": 14, "color": "#1a1a1a", "baseline": "middle", "align": "center"},
 "encoding": {"x": {"datum": "TRANCE", "type": "nominal", "bandPosition": 0.64, "title": null}, "y": {"datum": -2.15, "type": "quantitative", "title": "Normalized protein expression (NPX)"}, "text": {"value": "Inflammation Panel"}}
}
]
}
